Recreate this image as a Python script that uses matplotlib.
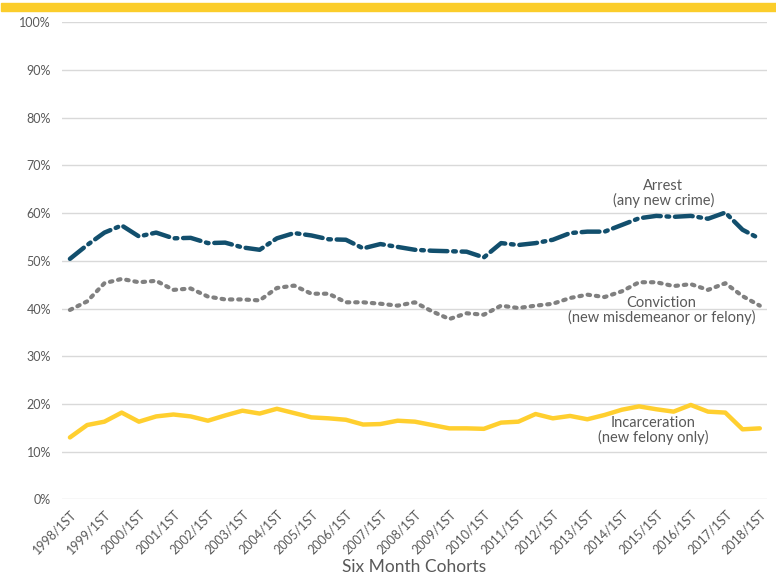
import numpy as np
import matplotlib
matplotlib.use("Agg")
import matplotlib.pyplot as plt
from matplotlib.ticker import PercentFormatter

# six-month cohorts, 1998/1ST .. 2018/1ST
cohorts = []
for yr in range(1998, 2019):
    cohorts.append(f"{yr}/1ST")
    if yr < 2018:
        cohorts.append(f"{yr}/2ND")

arrest = [50.4, 53.3, 55.9, 57.4, 55.1, 55.9, 54.7, 54.8, 53.7, 53.8,
          52.8, 52.3, 54.7, 55.8, 55.3, 54.5, 54.4, 52.6, 53.5, 52.9,
          52.3, 52.1, 52.0, 51.9, 50.7, 53.7, 53.3, 53.7, 54.4, 55.8,
          56.1, 56.1, 57.5, 58.9, 59.4, 59.2, 59.4, 58.8, 60.1, 56.5,
          54.6]
conviction = [39.7, 41.5, 45.3, 46.2, 45.5, 45.8, 43.9, 44.2, 42.5, 41.9,
              41.9, 41.7, 44.3, 44.8, 43.1, 43.1, 41.3, 41.3, 41.0, 40.6,
              41.3, 39.4, 37.8, 39.0, 38.7, 40.6, 40.1, 40.6, 41.0, 42.2,
              42.9, 42.4, 43.6, 45.5, 45.5, 44.7, 45.1, 43.9, 45.3, 42.6,
              40.6]
incarceration = [13.0, 15.6, 16.3, 18.2, 16.3, 17.4, 17.8, 17.4, 16.5, 17.6,
                 18.6, 18.0, 19.0, 18.1, 17.2, 17.0, 16.7, 15.7, 15.8, 16.5,
                 16.3, 15.6, 14.9, 14.9, 14.8, 16.1, 16.3, 17.9, 17.0, 17.5,
                 16.8, 17.7, 18.8, 19.5, 18.9, 18.4, 19.8, 18.4, 18.2, 14.7,
                 14.9]

plt.rcParams['font.family'] = ['Lato', 'DejaVu Sans']
grey_txt = "#595959"

fig = plt.figure(figsize=(7.76, 5.8), dpi=100)
ax = fig.add_axes([0.0799, 0.1388, 0.9081, 0.8232])

x = np.arange(len(cohorts))
ax.plot(x, np.array(arrest) / 100, color="#124F6D", lw=3.2,
        dashes=(4, 1.3, 0.6, 1.3), dash_capstyle='round')
ax.plot(x, np.array(conviction) / 100, color="#808080", lw=3.0,
        dashes=(0.6, 1.4), dash_capstyle='round')
ax.plot(x, np.array(incarceration) / 100, color="#FFCF2F", lw=3.2,
        solid_capstyle='round')

ax.set_ylim(0, 1)
ax.set_xlim(-0.46, 40.4)
ax.set_yticks(np.arange(0, 1.01, 0.1))
ax.yaxis.set_major_formatter(PercentFormatter(1.0, decimals=0))
ax.set_xticks(x[::2])
ax.set_xticklabels(cohorts[::2], rotation=45, ha='right',
                   rotation_mode='anchor')
ax.tick_params(length=0, labelsize=9, colors=grey_txt, pad=6)
ax.tick_params(axis='y', pad=8)
ax.grid(axis='y', color="#D9D9D9", lw=1)
ax.set_axisbelow(True)
for s in ax.spines.values():
    s.set_visible(False)

ax.set_xlabel("Six Month Cohorts", fontsize=12.5, color=grey_txt, labelpad=2)

ax.text(34.4, 0.64, "Arrest\n(any new crime)", ha='center', va='center',
        fontsize=10.5, color=grey_txt, linespacing=1.0)
ax.text(34.3, 0.395, "Conviction\n(new misdemeanor or felony)", ha='center',
        va='center', fontsize=10.5, color=grey_txt, linespacing=1.0)
ax.text(33.8, 0.145, "Incarceration\n(new felony only)", ha='center',
        va='center', fontsize=10.5, color=grey_txt, linespacing=1.0)

# yellow banner across the top
fig.patches.append(plt.Rectangle((0.001, 1 - 11.3 / 580), 0.999, 8 / 580,
                                 transform=fig.transFigure,
                                 color="#FBCD2B", zorder=0))

fig.savefig("out.png", dpi=100)
